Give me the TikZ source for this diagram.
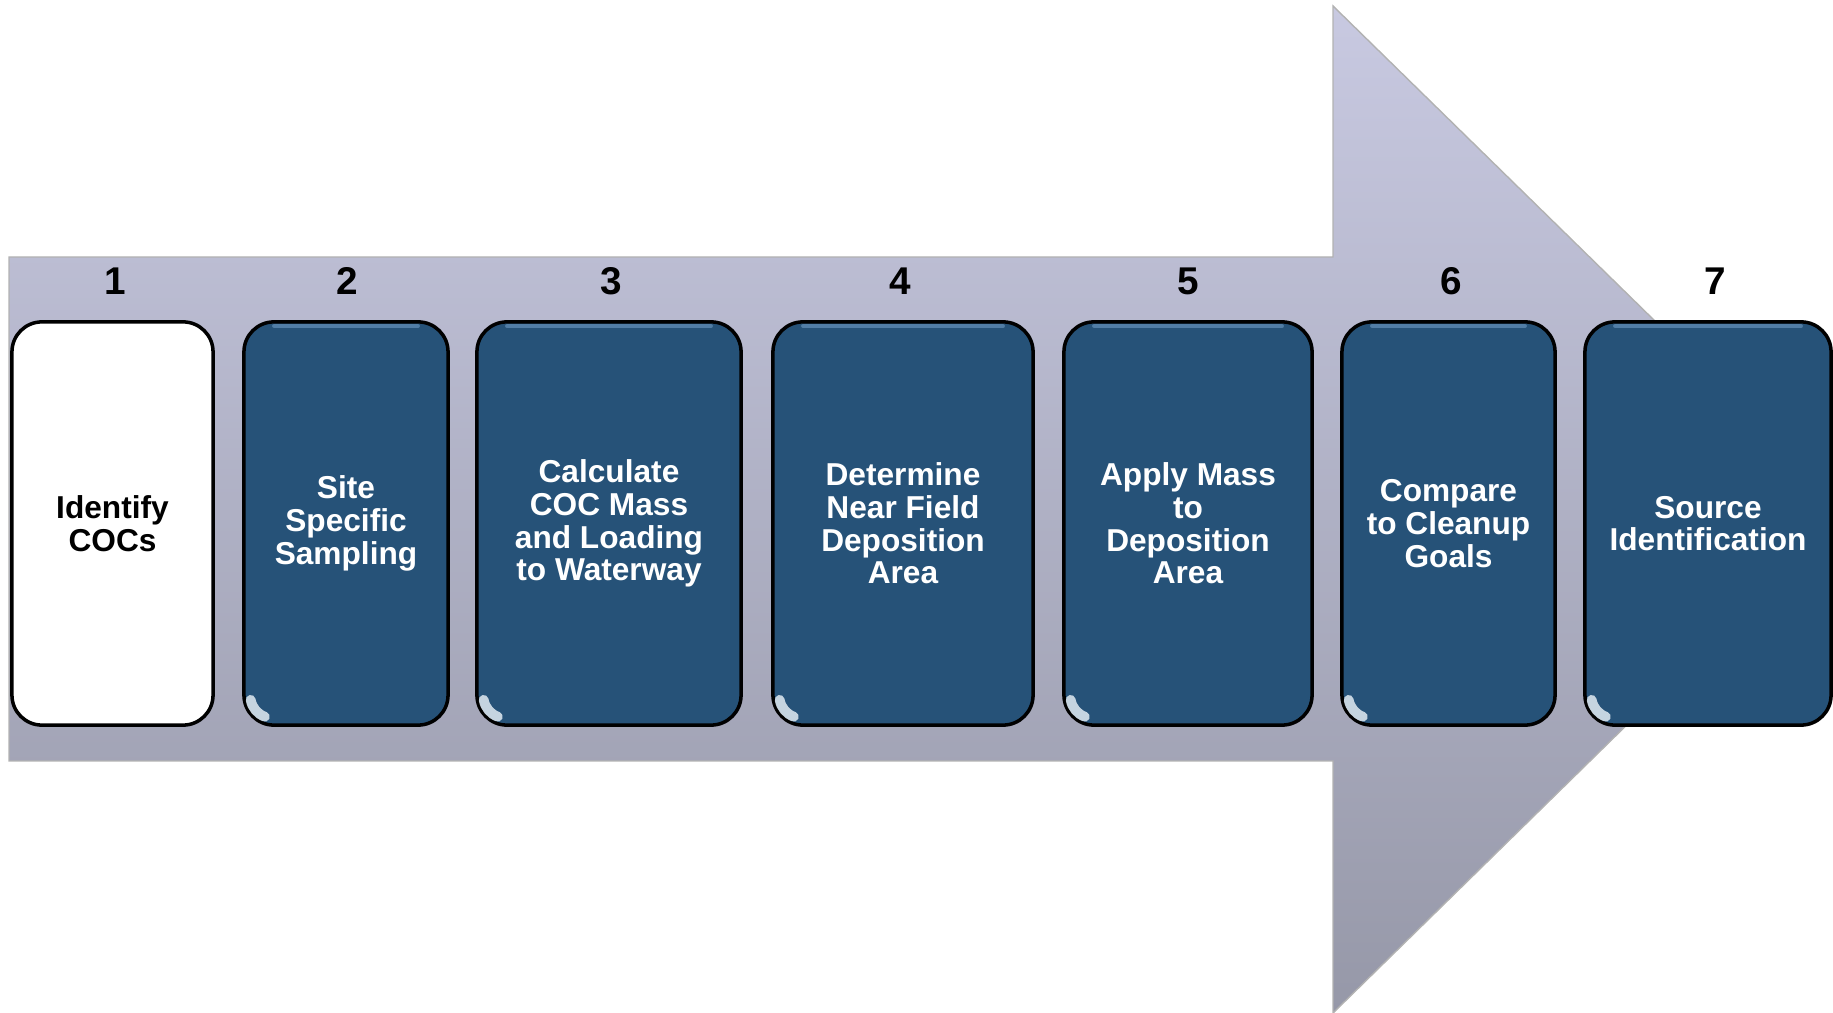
\documentclass[tikz,border=0pt]{standalone}
\usepackage{fontspec}
\setmainfont{Liberation Sans}

\definecolor{stepblue}{RGB}{38,82,120}
\definecolor{arrowtop}{RGB}{200,201,225}
\definecolor{arrowbot}{RGB}{150,152,168}
\definecolor{gloss}{RGB}{110,155,195}

\begin{document}
\begin{tikzpicture}[x=0.01cm,y=-0.01cm]
	\tikzstyle{stepbox}=[rectangle, rounded corners=0.3cm, draw=black, line width=1pt, fill=stepblue, text=white, font=\bfseries\fontsize{9}{9.3}\selectfont, align=center, minimum height=4.03cm, inner sep=0pt]
	\tikzstyle{first}=[stepbox, fill=white, text=black]
	\tikzstyle{num}=[font=\bfseries\fontsize{11}{11}\selectfont, inner sep=0pt]

	\useasboundingbox (0,0) rectangle (1833,1013);
	\shade [top color=arrowtop, bottom color=arrowbot, draw=gray!60, line width=0.4pt]
		(9,257) -- (1333,257) -- (1333,6) -- (1847,509) -- (1333,1013) -- (1333,761) -- (9,761) -- cycle;

	\node [first, minimum width=2.01cm] (b1) at (112.5,523.5) {Identify\\COCs};
	\node [stepbox, minimum width=2.04cm] (b2) at (346,523.5) {Site\\Specific\\Sampling};
	\node [stepbox, minimum width=2.64cm] (b3) at (609,523.5) {Calculate\\COC Mass\\and Loading\\to Waterway};
	\node [stepbox, minimum width=2.60cm] (b4) at (903,523.5) {Determine\\Near Field\\Deposition\\Area};
	\node [stepbox, minimum width=2.48cm] (b5) at (1188,523.5) {Apply Mass\\to\\Deposition\\Area};
	\node [stepbox, minimum width=2.13cm] (b6) at (1448.5,523.5) {Compare\\to Cleanup\\Goals};
	\node [stepbox, minimum width=2.46cm] (b7) at (1708,523.5) {Source\\Identification};

	\node [num] (n1) at (115,281) {1};
	\node [num] (n2) at (347,281) {2};
	\node [num] (n3) at (611,281) {3};
	\node [num] (n4) at (900,281) {4};
	\node [num] (n5) at (1188,281) {5};
	\node [num] (n6) at (1451,281) {6};
	\node [num] (n7) at (1715,281) {7};

	\foreach \b in {b2,b3,b4,b5,b6,b7} {
		\draw [gloss, line width=1.2pt, line cap=round, opacity=0.6] ([xshift=0.32cm,yshift=-0.06cm]\b.north west) -- ([xshift=-0.32cm,yshift=-0.06cm]\b.north east);
		\draw [white!80!gloss, line width=2.8pt, line cap=round, opacity=0.85] ([xshift=0.085cm,yshift=0.27cm]\b.south west) arc [start angle=190, end angle=250, radius=0.22cm];
	}
\end{tikzpicture}
\end{document}
